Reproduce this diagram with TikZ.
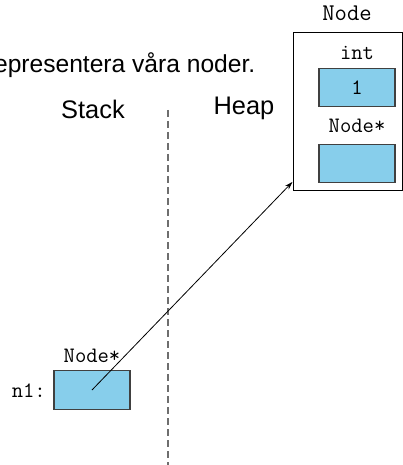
\documentclass[tikz,border=0pt]{standalone}
\usepackage{fontspec}
\setsansfont{Liberation Sans}
\usetikzlibrary{arrows.meta}
\definecolor{cellblue}{RGB}{135,206,235}
\definecolor{divgray}{RGB}{110,110,110}
\begin{document}
\begin{tikzpicture}[x=1pt,y=-1pt,
  cell/.style={draw=black!75, fill=cellblue, line width=1.1pt,
    minimum width=76pt, minimum height=38.5pt, inner sep=0pt,
    font=\fontsize{22}{24}\selectfont\ttfamily},
  tlabel/.style={font=\fontsize{22}{24}\selectfont\ttfamily, inner sep=0pt, anchor=base},
  slabel/.style={font=\fontsize{25.4}{28}\selectfont\sffamily, inner sep=0pt, anchor=base},
  divider/.style={draw=divgray, line width=1.3pt, dash pattern=on 7pt off 4pt},
  pointer/.style={line width=0.8pt, -{Stealth[length=8pt,width=5pt]}},
]
\useasboundingbox (0,0) rectangle (402,465);

% slide sentence, running in from the left edge
\node[font=\fontsize{24.6}{27}\selectfont\sffamily, inner sep=0pt, anchor=base east]
  (intro) at (255.5,73) {representera våra noder.};

% memory regions
\node[slabel] (stack) at (93,119) {Stack};
\node[slabel] (heap) at (244,115) {Heap};
\coordinate (divtop) at (168,110);
\coordinate (divbot) at (168,466);
\draw[divider] (divtop) -- (divbot);

% heap object of type Node
\node[draw=black, line width=0.9pt, minimum width=109pt, minimum height=158pt,
  inner sep=0pt, anchor=north west] (nodebox) at (292.5,32) {};
\node[tlabel, font=\fontsize{24}{26}\selectfont\ttfamily] (nodetitle) at (347,21) {Node};
\node[tlabel] (intlabel) at (357,60) {int};
\node[cell] (datacell) at (357,87.5) {1};
\node[tlabel] (nextlabel) at (357,133) {Node*};
\node[cell] (nextcell) at (357,163.5) {};

% local pointer variable on the stack
\node[tlabel] (n1type) at (92,362) {Node*};
\node[cell] (n1cell) at (92,390) {};
\node[font=\fontsize{22}{24}\selectfont\ttfamily, inner sep=0pt, anchor=base east]
  (n1name) at (46,397) {n1:};

% pointer into the heap
\draw[pointer] (n1cell.center) -- ([yshift=9pt]nodebox.south west);
\end{tikzpicture}
\end{document}
